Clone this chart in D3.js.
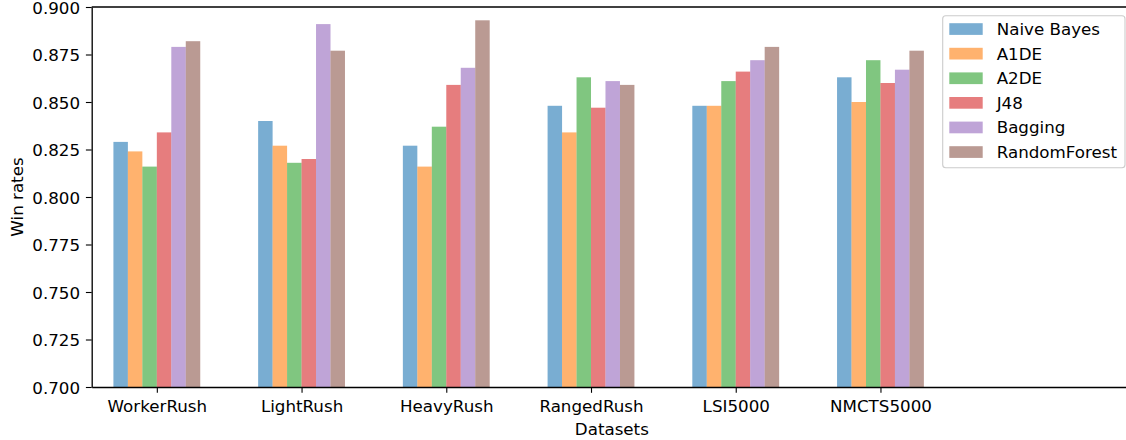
<!DOCTYPE html>
<html>
<head>
<meta charset="utf-8">
<script src="https://cdn.jsdelivr.net/npm/d3@7"></script>
<style>
  html, body { margin: 0; padding: 0; background: #fff; }
  svg { display: block; font-family: "DejaVu Sans", sans-serif; }
</style>
</head>
<body>
<svg id="chart" width="1126" height="440"></svg>
<script>
const categories = ["WorkerRush", "LightRush", "HeavyRush", "RangedRush", "LSI5000", "NMCTS5000"];
const seriesNames = ["Naive Bayes", "A1DE", "A2DE", "J48", "Bagging", "RandomForest"];
const naiveBayes   = [0.829, 0.840, 0.827, 0.848, 0.848, 0.863];
const a1de         = [0.824, 0.827, 0.816, 0.834, 0.848, 0.850];
const a2de         = [0.816, 0.818, 0.837, 0.863, 0.861, 0.872];
const j48          = [0.834, 0.820, 0.859, 0.847, 0.866, 0.860];
const bagging      = [0.879, 0.891, 0.868, 0.861, 0.872, 0.867];
const randomForest = [0.882, 0.877, 0.893, 0.859, 0.879, 0.877];
const yTicks = [0.700, 0.725, 0.750, 0.775, 0.800, 0.825, 0.850, 0.875, 0.900];
const colors = ["#1f77b4", "#ff7f0e", "#2ca02c", "#d62728", "#9467bd", "#8c564b"];

const seriesValues = [naiveBayes, a1de, a2de, j48, bagging, randomForest];

(function () {
const svg = d3.select("#chart");
const mLeft = 91.7, mRight = 1132, mTop = 7, mBottom = 387;
const barW = 0.1;

const x = d3.scaleLinear().domain([-0.45, 6.738]).range([mLeft, mRight]);
const y = d3.scaleLinear().domain([0.7, 0.9]).range([mBottom, mTop]);

// bars
const plot = svg.append("g");
seriesValues.forEach((vals, s) => {
  plot.selectAll(null)
    .data(vals)
    .enter().append("rect")
    .attr("x", (d, i) => x(i + (s - 3) * barW))
    .attr("width", x(barW) - x(0))
    .attr("y", d => y(d))
    .attr("height", d => y(0.7) - y(d))
    .attr("fill", colors[s])
    .attr("fill-opacity", 0.6);
});

const fs = 16.7;
const tickLen = 5.8;

// y axis
const yAxis = d3.axisLeft(y)
  .tickValues(yTicks)
  .tickFormat(d3.format(".3f"))
  .tickSize(tickLen)
  .tickSizeOuter(0)
  .tickPadding(5.8);
const gy = svg.append("g").attr("transform", `translate(${mLeft},0)`).call(yAxis);
gy.selectAll("text").attr("font-size", fs).attr("font-family", "DejaVu Sans").attr("fill", "#000").attr("dy", "0.36em");
gy.selectAll("line").attr("stroke", "#000").attr("stroke-width", 1.1);
gy.select(".domain").attr("stroke", "#000").attr("stroke-width", 1.33);

// x axis
const xAxis = d3.axisBottom(x)
  .tickValues(d3.range(categories.length))
  .tickFormat(i => categories[i])
  .tickSize(tickLen)
  .tickSizeOuter(0)
  .tickPadding(5.8);
const gx = svg.append("g").attr("transform", `translate(0,${mBottom})`).call(xAxis);
gx.selectAll("text").attr("font-size", fs).attr("font-family", "DejaVu Sans").attr("fill", "#000").attr("dy", null).attr("y", 25);
gx.selectAll("line").attr("stroke", "#000").attr("stroke-width", 1.1);
gx.select(".domain").attr("stroke", "#000").attr("stroke-width", 1.33);

// top & right spines
svg.append("line").attr("x1", mLeft).attr("x2", mRight).attr("y1", mTop).attr("y2", mTop)
  .attr("stroke", "#000").attr("stroke-width", 1.33);
svg.append("line").attr("x1", mRight).attr("x2", mRight).attr("y1", mTop).attr("y2", mBottom)
  .attr("stroke", "#000").attr("stroke-width", 1.33);

// axis labels
svg.append("text")
  .attr("x", (mLeft + mRight) / 2).attr("y", 435)
  .attr("text-anchor", "middle").attr("font-size", fs).attr("fill", "#000")
  .text("Datasets");
svg.append("text")
  .attr("transform", `translate(23,${(mTop + mBottom) / 2}) rotate(-90)`)
  .attr("text-anchor", "middle").attr("font-size", fs).attr("fill", "#000")
  .text("Win rates");

// legend
const lg = svg.append("g");
lg.append("rect")
  .attr("x", 942.7).attr("y", 15.7).attr("width", 1125 - 942.7).attr("height", 167.7 - 15.7)
  .attr("rx", 3).attr("fill", "#fff").attr("fill-opacity", 0.8)
  .attr("stroke", "#cccccc").attr("stroke-width", 1.1);
seriesNames.forEach((name, i) => {
  const cy = 29 + i * 24.6;
  lg.append("rect")
    .attr("x", 949.3).attr("y", cy - 5.8).attr("width", 33.4).attr("height", 11.7)
    .attr("fill", colors[i]).attr("fill-opacity", 0.6);
  lg.append("text")
    .attr("x", 996.7).attr("y", cy + 6)
    .attr("font-size", fs).attr("fill", "#000")
    .text(name);
});
})();
</script>
</body>
</html>
